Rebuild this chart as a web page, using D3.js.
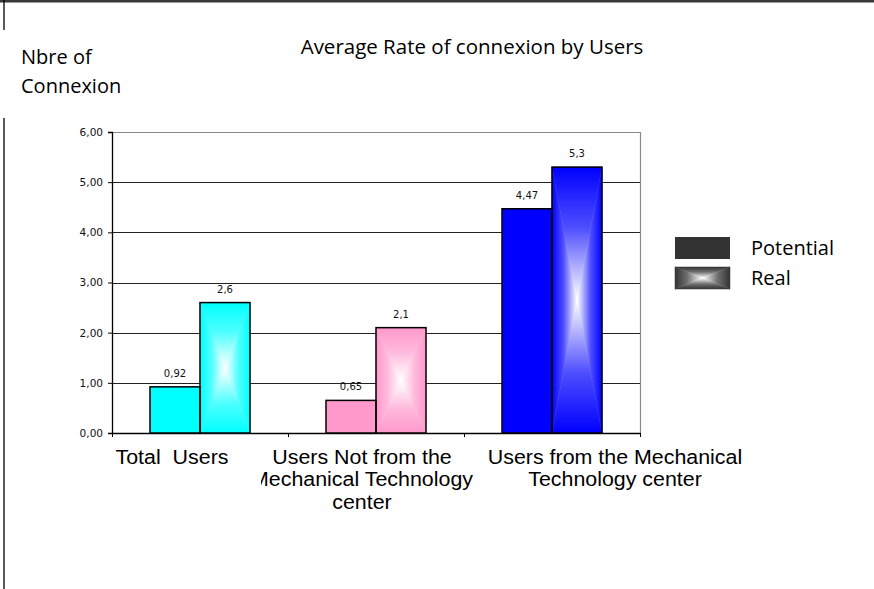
<!DOCTYPE html>
<html><head><meta charset="utf-8">
<script src="https://cdn.jsdelivr.net/npm/d3@7"></script>
<style>body{margin:0;background:#fff}svg{display:block}</style>
</head><body>
<svg id="c" width="874" height="589"></svg>
<script>
const categories = ["Total Users", "Users Not from the Mechanical Technology center", "Users from the Mechanical Technology center"];
const categoryLabelLines = [["Total  Users"], ["Users Not from the", "Mechanical Technology", "center"], ["Users from the Mechanical", "Technology center"]];
const seriesNames = ["Potential", "Real"];
const potentialValues = [0.92, 0.65, 4.47];
const realValues = [2.6, 2.1, 5.3];
const potentialLabels = ["0,92", "0,65", "4,47"];
const realLabels = ["2,6", "2,1", "5,3"];
const yTicks = [0, 1, 2, 3, 4, 5, 6];
const categoryColors = ["#00FFFF", "#FF99CC", "#0000FF"];

const svg = d3.select("#c");
const defs = svg.append("defs");
const W = 874, H = 589;
const m = {left: 112, right: 640, top: 132, bottom: 433};
const smallFont = "'DejaVu Sans', sans-serif";
const catFont = "'Liberation Sans', Arial, sans-serif";
const cal = "'Open Sans', sans-serif";

// frame
svg.append("line").attr("x1", 0).attr("x2", W).attr("y1", 1.2).attr("y2", 1.2).attr("stroke", "#3a3a3a").attr("stroke-width", 2.4);
svg.append("line").attr("x1", 4).attr("x2", 4).attr("y1", 0).attr("y2", 30).attr("stroke", "#000").attr("stroke-width", 1.3);
svg.append("line").attr("x1", 4).attr("x2", 4).attr("y1", 118).attr("y2", H).attr("stroke", "#000").attr("stroke-width", 1.3);

const x0 = d3.scaleBand().domain(categories).range([m.left, m.right]).padding(0);
const x1 = d3.scaleBand().domain(seriesNames).range([0, x0.bandwidth()]).paddingInner(0).paddingOuter(0.76);
const y = d3.scaleLinear().domain([0, 6]).range([m.bottom, m.top]);

// gridlines
svg.append("g").selectAll("line").data(yTicks.filter(t => t > 0 && t < 6)).join("line")
  .attr("x1", m.left).attr("x2", m.right).attr("y1", d => Math.round(y(d)) + 0.5).attr("y2", d => Math.round(y(d)) + 0.5)
  .attr("stroke", "#222").attr("stroke-width", 1);
// top & right border (gray)
svg.append("path").attr("d", `M${m.left},${m.top + 0.5}H${m.right + 0.5}V${m.bottom}`)
  .attr("fill", "none").attr("stroke", "#8a8a8a").attr("stroke-width", 1.2);

// y axis
const yAxis = d3.axisLeft(y).tickValues(yTicks).tickSize(4).tickPadding(5)
  .tickFormat(d => d3.format(".2f")(d).replace(".", ","));
const gy = svg.append("g").attr("transform", `translate(${m.left},0)`).call(yAxis);
gy.select(".domain").attr("stroke", "#000").attr("stroke-width", 1.3);
gy.selectAll(".tick line").attr("stroke", "#000");
gy.selectAll("text").attr("font-family", smallFont).attr("font-size", 10.5).attr("fill", "#111");

// x axis
const xAxis = d3.axisBottom(x0).tickSize(0).tickFormat("");
const gx = svg.append("g").attr("transform", `translate(0,${m.bottom})`).call(xAxis);
gx.select(".domain").attr("stroke", "#000").attr("stroke-width", 1.3);
const boundaries = [m.left].concat(categories.map(c => x0(c) + x0.bandwidth()));
gx.selectAll(".bt").data(boundaries).join("line").attr("class", "bt")
  .attr("x1", d => d + 0.5).attr("x2", d => d + 0.5).attr("y1", 0).attr("y2", 4).attr("stroke", "#000");

// "from center" gradient: four triangles each with its own linear gradient
function gradId(color, dir) {
  const id = "g" + color.replace("#", "") + dir;
  if (!defs.select("#" + id).empty()) return id;
  const g = defs.append("linearGradient").attr("id", id);
  const coords = {l: [0, 0, 1, 0], r: [1, 0, 0, 0], t: [0, 0, 0, 1], b: [0, 1, 0, 0]}[dir];
  g.attr("x1", coords[0]).attr("y1", coords[1]).attr("x2", coords[2]).attr("y2", coords[3]);
  g.append("stop").attr("offset", 0).attr("stop-color", color);
  g.append("stop").attr("offset", 0.45).attr("stop-color", d3.interpolateRgb(color, "#fff")(0.3));
  g.append("stop").attr("offset", 1).attr("stop-color", "#fff");
  return id;
}
function centerFill(g, x, yy, w, h, color) {
  const cx = x + w / 2, cy = yy + h / 2;
  const tris = [
    ["l", `M${x},${yy}L${cx},${cy}L${x},${yy + h}Z`],
    ["r", `M${x + w},${yy}L${cx},${cy}L${x + w},${yy + h}Z`],
    ["t", `M${x},${yy}L${cx},${cy}L${x + w},${yy}Z`],
    ["b", `M${x},${yy + h}L${cx},${cy}L${x + w},${yy + h}Z`]
  ];
  tris.forEach(([d, p]) => g.append("path").attr("d", p).attr("fill", `url(#${gradId(color, d)})`)
    .attr("stroke", `url(#${gradId(color, d)})`).attr("stroke-width", 0.5));
}

const bars = svg.append("g");
categories.forEach((c, i) => {
  const col = categoryColors[i];
  const px = x0(c) + x1("Potential"), rx = x0(c) + x1("Real"), bw = x1.bandwidth();
  bars.append("rect").attr("x", px).attr("y", y(potentialValues[i])).attr("width", bw)
    .attr("height", y(0) - y(potentialValues[i])).attr("fill", col);
  const rg = bars.append("g");
  centerFill(rg, rx, y(realValues[i]), bw, y(0) - y(realValues[i]), col);
  bars.append("rect").attr("x", px).attr("y", y(potentialValues[i])).attr("width", bw)
    .attr("height", y(0) - y(potentialValues[i])).attr("fill", "none").attr("stroke", "#000").attr("stroke-width", 1.5);
  bars.append("rect").attr("x", rx).attr("y", y(realValues[i])).attr("width", bw)
    .attr("height", y(0) - y(realValues[i])).attr("fill", "none").attr("stroke", "#000").attr("stroke-width", 1.5);
  bars.append("text").attr("x", px + bw / 2).attr("y", y(potentialValues[i]) - 10).attr("text-anchor", "middle")
    .attr("font-family", smallFont).attr("font-size", 10).attr("fill", "#111").text(potentialLabels[i]);
  bars.append("text").attr("x", rx + bw / 2).attr("y", y(realValues[i]) - 10).attr("text-anchor", "middle")
    .attr("font-family", smallFont).attr("font-size", 10).attr("fill", "#111").text(realLabels[i]);
});

// category labels (text boxes offset from the band centres, as in the original)
const labelShift = [-28, -14, 63];
defs.append("clipPath").attr("id", "clip2").append("rect").attr("x", 261).attr("y", 430).attr("width", 400).attr("height", 100);
const cl = svg.append("g");
categories.forEach((c, i) => {
  const cx = x0(c) + x0.bandwidth() / 2 + labelShift[i];
  const outer = cl.append("g");
  if (i === 1) outer.attr("clip-path", "url(#clip2)");
  const t = outer.append("g").attr("transform", `translate(${cx},464) scale(1.07,1)`)
    .append("text").attr("text-anchor", "middle")
    .attr("font-family", catFont).attr("font-size", 20).attr("fill", "#000");
  categoryLabelLines[i].forEach((ln, k) => {
    t.append("tspan").attr("x", 0).attr("y", k * 22.5).attr("xml:space", "preserve").text(ln);
  });
});

// title & y title
svg.append("text").attr("x", 472).attr("y", 54).attr("text-anchor", "middle").attr("font-family", cal)
  .attr("font-size", 20.5).text("Average Rate of connexion by Users");
svg.append("text").attr("x", 21).attr("y", 64).attr("font-family", cal).attr("font-size", 20).text("Nbre of");
svg.append("text").attr("x", 21).attr("y", 93).attr("font-family", cal).attr("font-size", 20).text("Connexion");

// legend
const lg = svg.append("g");
seriesNames.forEach((s, i) => {
  const yy = 237 + i * 30;
  if (i === 0) lg.append("rect").attr("x", 675).attr("y", yy).attr("width", 55).attr("height", 22).attr("fill", "#333");
  else centerFill(lg, 675, yy, 55, 22, "#333");
  lg.append("text").attr("x", 751).attr("y", yy + 18).attr("font-family", cal).attr("font-size", 20).text(s);
});
</script>
</body></html>
